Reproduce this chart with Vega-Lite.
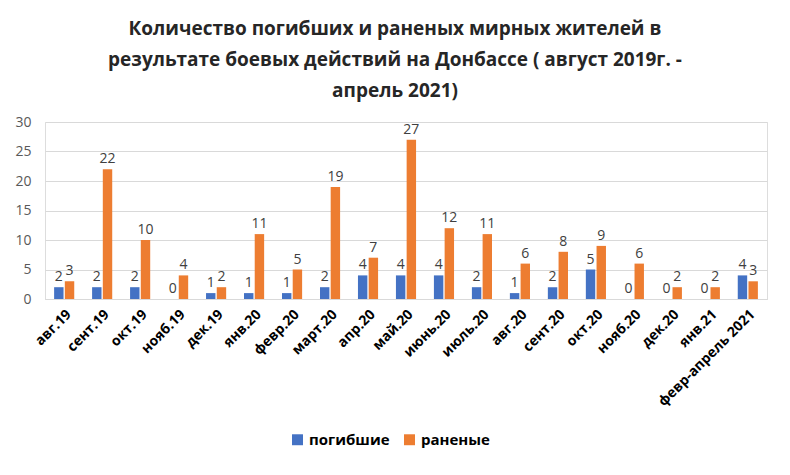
{
  "$schema": "https://vega.github.io/schema/vega-lite/v6.json",
  "width": 722,
  "height": 177,
  "autosize": "none",
  "padding": {"left": 45, "top": 122, "right": 23, "bottom": 176},
  "background": "white",
  "title": {
    "text": ["Количество погибших и раненых мирных жителей  в", "результате боевых действий на Донбассе ( август 2019г. -", "апрель 2021)"],
    "font": "Open Sans",
    "fontSize": 19,
    "fontWeight": "bold",
    "color": "#262626",
    "lineHeight": 31,
    "anchor": "middle",
    "dx": -11,
    "offset": 14
  },
  "data": {
    "values": [
      {"month": "авг.19", "series": "погибшие", "value": 2},
      {"month": "авг.19", "series": "раненые", "value": 3},
      {"month": "сент.19", "series": "погибшие", "value": 2},
      {"month": "сент.19", "series": "раненые", "value": 22},
      {"month": "окт.19", "series": "погибшие", "value": 2},
      {"month": "окт.19", "series": "раненые", "value": 10},
      {"month": "нояб.19", "series": "погибшие", "value": 0},
      {"month": "нояб.19", "series": "раненые", "value": 4},
      {"month": "дек.19", "series": "погибшие", "value": 1},
      {"month": "дек.19", "series": "раненые", "value": 2},
      {"month": "янв.20", "series": "погибшие", "value": 1},
      {"month": "янв.20", "series": "раненые", "value": 11},
      {"month": "февр.20", "series": "погибшие", "value": 1},
      {"month": "февр.20", "series": "раненые", "value": 5},
      {"month": "март.20", "series": "погибшие", "value": 2},
      {"month": "март.20", "series": "раненые", "value": 19},
      {"month": "апр.20", "series": "погибшие", "value": 4},
      {"month": "апр.20", "series": "раненые", "value": 7},
      {"month": "май.20", "series": "погибшие", "value": 4},
      {"month": "май.20", "series": "раненые", "value": 27},
      {"month": "июнь.20", "series": "погибшие", "value": 4},
      {"month": "июнь.20", "series": "раненые", "value": 12},
      {"month": "июль.20", "series": "погибшие", "value": 2},
      {"month": "июль.20", "series": "раненые", "value": 11},
      {"month": "авг.20", "series": "погибшие", "value": 1},
      {"month": "авг.20", "series": "раненые", "value": 6},
      {"month": "сент.20", "series": "погибшие", "value": 2},
      {"month": "сент.20", "series": "раненые", "value": 8},
      {"month": "окт.20", "series": "погибшие", "value": 5},
      {"month": "окт.20", "series": "раненые", "value": 9},
      {"month": "нояб.20", "series": "погибшие", "value": 0},
      {"month": "нояб.20", "series": "раненые", "value": 6},
      {"month": "дек.20", "series": "погибшие", "value": 0},
      {"month": "дек.20", "series": "раненые", "value": 2},
      {"month": "янв.21", "series": "погибшие", "value": 0},
      {"month": "янв.21", "series": "раненые", "value": 2},
      {"month": "февр-апрель 2021", "series": "погибшие", "value": 4},
      {"month": "февр-апрель 2021", "series": "раненые", "value": 3}
    ]
  },
  "encoding": {
    "x": {
      "field": "month", "type": "nominal", "sort": null, "title": null,
      "scale": {"paddingInner": 0.47, "paddingOuter": 0.24},
      "axis": {
        "labelAngle": -45, "labelFont": "Open Sans", "labelFontSize": 14, "labelFontWeight": "bold",
        "labelColor": "#000000", "ticks": false, "domainColor": "#d9d9d9", "labelPadding": 8, "labelLimit": 200
      }
    },
    "xOffset": {"field": "series", "type": "nominal", "sort": ["погибшие", "раненые"], "scale": {"paddingInner": 0.12}},
    "y": {
      "field": "value", "type": "quantitative", "title": null,
      "scale": {"domain": [0, 30], "nice": false},
      "axis": {
        "values": [0, 5, 10, 15, 20, 25, 30], "domain": false, "ticks": false, "gridColor": "#d9d9d9",
        "labelFont": "Open Sans", "labelFontSize": 14, "labelColor": "#595959", "labelPadding": 14
      }
    }
  },
  "layer": [
    {
      "mark": {"type": "bar"},
      "encoding": {
        "color": {
          "field": "series", "type": "nominal", "sort": ["погибшие", "раненые"],
          "scale": {"domain": ["погибшие", "раненые"], "range": ["#4472C4", "#ED7D31"]},
          "legend": {
            "title": null, "orient": "none", "direction": "horizontal", "legendX": 245, "legendY": 310,
            "symbolType": "square", "symbolSize": 120, "symbolStrokeWidth": 0,
            "labelFont": "Open Sans", "labelFontSize": 15, "labelFontWeight": "bold", "labelColor": "#000000",
            "columnPadding": 12
          }
        }
      }
    },
    {
      "mark": {"type": "text", "dy": -10, "font": "Open Sans", "fontSize": 14, "color": "#404040"},
      "encoding": {"text": {"field": "value", "type": "quantitative"}}
    }
  ]
}
